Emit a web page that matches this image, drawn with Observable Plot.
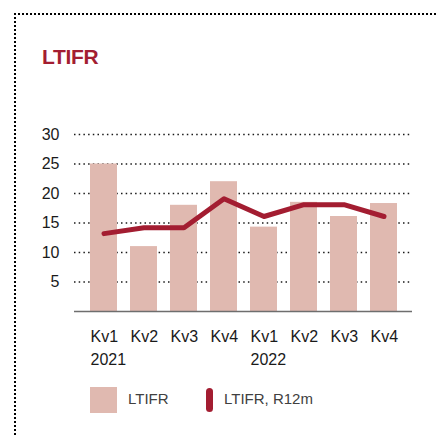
<!DOCTYPE html>
<html>
<head>
<meta charset="utf-8">
<script src="https://cdn.jsdelivr.net/npm/d3@7"></script>
<script src="https://cdn.jsdelivr.net/npm/@observablehq/plot@0.6"></script>
<style>
  html, body { margin: 0; padding: 0; background: #fff; }
  body { width: 436px; height: 437px; position: relative; overflow: hidden; font-family: "Liberation Sans", Arial, sans-serif; }
  #frame { position: absolute; left: 14px; top: 13px; width: 440px; height: 440px; border-top: 2px dotted #000; border-left: 2px dotted #000; }
  #title { position: absolute; left: 42px; top: 45px; font-size: 21px; font-weight: bold; color: #a31d31; letter-spacing: -0.3px; }
  #chart { position: absolute; left: 0; top: 120px; }
  .leg { position: absolute; top: 387px; font-size: 15px; color: #404040; }
  .sw1 { position: absolute; left: 90px; top: 387px; width: 27px; height: 26px; background: #e0b9b0; }
  .sw2 { position: absolute; left: 206px; top: 388px; width: 7px; height: 24px; background: #a31d31; border-radius: 4px; }
</style>
</head>
<body>
<div id="frame"></div>
<div id="title">LTIFR</div>
<div id="chart"></div>
<div class="sw1"></div>
<div class="leg" style="left:128px; top:390px;">LTIFR</div>
<div class="sw2"></div>
<div class="leg" style="left:224px; top:390px;">LTIFR, R12m</div>
<script>
const quarters = ["Kv1", "Kv2", "Kv3", "Kv4", "Kv1", "Kv2", "Kv3", "Kv4"];
const years = ["2021", "", "", "", "2022", "", "", ""];
const ltifr = [25, 11, 18, 22, 14.3, 18.5, 16.1, 18.3];
const ltifrR12m = [13.2, 14.2, 14.2, 19.1, 16.1, 18.1, 18.1, 16.1];
const yTicks = [5, 10, 15, 20, 25, 30];

const keys = quarters.map((q, i) => i);
const labelOf = i => years[i] ? quarters[i] + "\n" + years[i] : quarters[i];
const data = keys.map(i => ({k: i, bar: ltifr[i], line: ltifrR12m[i]}));

const chart = Plot.plot({
  width: 436,
  height: 250,
  marginTop: 14,
  marginBottom: 59,
  marginLeft: 74,
  marginRight: 24,
  style: {fontFamily: "'Liberation Sans', Arial, sans-serif", fontSize: "16px", color: "#1a1a1a", background: "transparent"},
  x: {domain: keys, paddingInner: 0.33, paddingOuter: 0.37, label: null},
  y: {domain: [0, 30], label: null},
  marks: [
    Plot.ruleY(yTicks, {stroke: "#000", strokeWidth: 1.5, strokeDasharray: "1.5,3.2", strokeOpacity: 0.9}),
    Plot.barY(data, {x: "k", y: "bar", fill: "#e0b9b0"}),
    Plot.ruleY([0], {stroke: "#6e6e6e", strokeWidth: 1.5}),
    Plot.lineY(data, {x: "k", y: "line", stroke: "#a31d31", strokeWidth: 5, strokeLinecap: "round", strokeLinejoin: "round"}),
    Plot.axisY({ticks: yTicks, tickSize: 0, tickPadding: 15, fontSize: 16, fill: "#1a1a1a", label: null}),
    Plot.axisX({tickSize: 0, tickPadding: 14, tickFormat: labelOf, textAnchor: "start", dx: -13.5, lineHeight: 1.45, fontSize: 16, fill: "#1a1a1a", label: null})
  ]
});
document.getElementById("chart").appendChild(chart);
</script>
</body>
</html>
